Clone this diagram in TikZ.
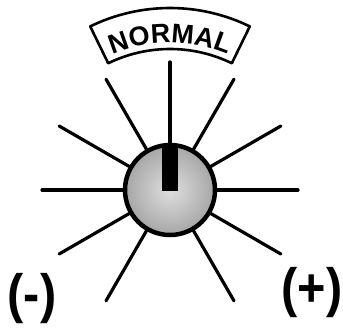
\documentclass[tikz,border=0pt]{standalone}
\usepackage{fontspec}
\newfontfamily\dialfont{Liberation Sans}
\usetikzlibrary{decorations.text}

\begin{document}
\begin{tikzpicture}[x=1pt,y=1pt,line cap=round]
  \tikzstyle{ray}=[line width=3.2pt]
  \tikzstyle{sign}=[font=\dialfont\bfseries\fontsize{54}{54}\selectfont,inner sep=0pt,xscale=0.9]
  \useasboundingbox (0,0) rectangle (343,327);
  \coordinate (c) at (170,137);
  % rays round the knob
  \foreach \a in {0,30,...,240,300,330}
    \draw[ray] ([shift={(\a:46)}]c) -- ([shift={(\a:128)}]c);
  \node[circle,draw,line width=4.5pt,minimum size=90pt,inner color=gray!25,outer color=gray!70] (knob) at (c) {};
  \node[fill=black,minimum width=16pt,minimum height=47pt,inner sep=0pt,anchor=north] (pointer) at ([yshift=-1pt]knob.north) {};
  % banner
  \draw[line width=2.6pt,line join=round] ([shift={(64:141)}]c) arc[start angle=64,end angle=116,radius=141]
    -- ([shift={(116:182)}]c) arc[start angle=116,end angle=64,radius=182] -- cycle;
  \path[decorate,decoration={text along path,text align=center,
    text={|\dialfont\bfseries\fontsize{27}{27}\selectfont|NORMAL}}]
    ([shift={(116:147)}]c) arc[start angle=116,end angle=64,radius=147];
  \node[sign] (minus) at (32,28) {(-)};
  \node[sign] (plus) at (312,34) {(+)};
\end{tikzpicture}
\end{document}
